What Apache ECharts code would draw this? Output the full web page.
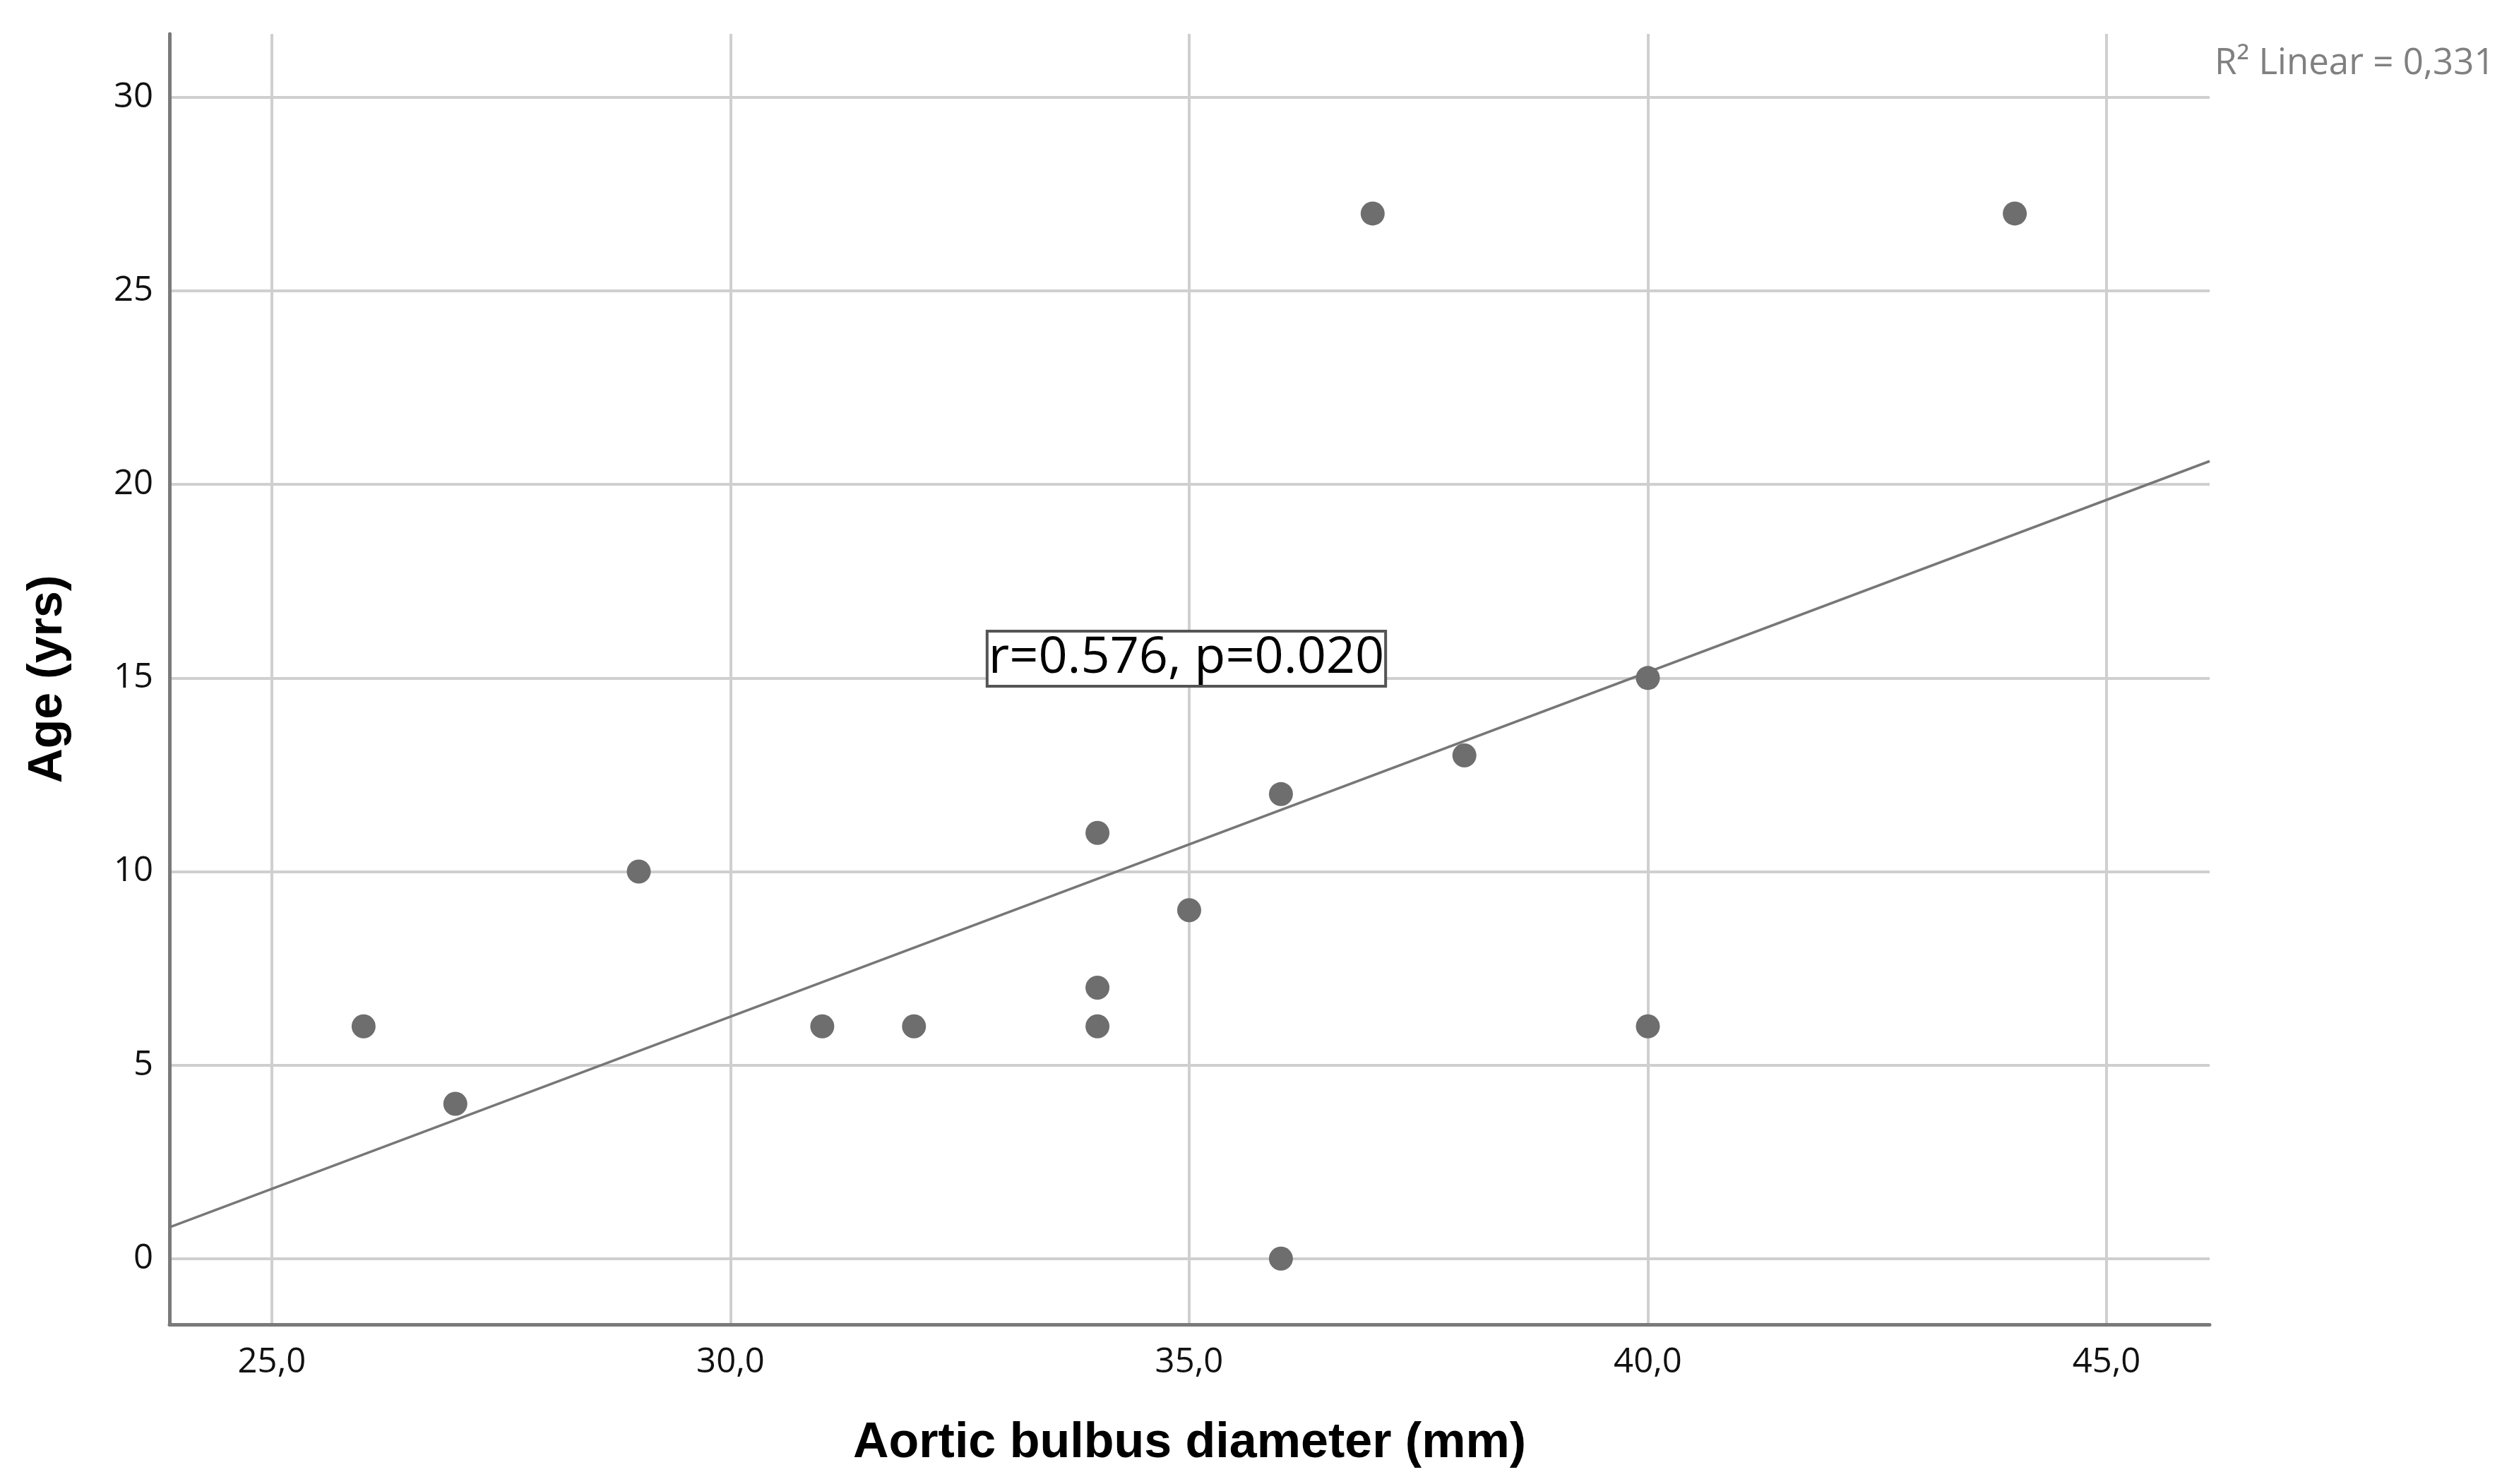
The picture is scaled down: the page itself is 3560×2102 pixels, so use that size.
<!DOCTYPE html>
<html>
<head>
<meta charset="utf-8">
<script src="https://cdn.jsdelivr.net/npm/echarts@6/dist/echarts.min.js"></script>
<style>
  html, body { margin: 0; padding: 0; background: #fff; }
  #chart { width: 3560px; height: 2102px; }
</style>
</head>
<body>
<div id="chart"></div>
<script>
// aortic bulbus diameter (mm) vs age (yrs)
var diameterMm = [26, 27, 29, 31, 32, 34, 34, 34, 35, 36, 36, 37, 38, 40, 40, 44];
var ageYrs     = [6, 4, 10, 6, 6, 11, 7, 6, 9, 12, 0, 27, 13, 15, 6, 27];

var xRange = [23.884, 46.124];
var yRange = [-1.70, 31.64];

var r2Label = 'R² Linear = 0,331';
var statsLabel = 'r=0.576, p=0.020';
var statsAt = [35, 15.5];

// least squares fit
var n = diameterMm.length, mx = 0, my = 0;
for (var i = 0; i < n; i++) { mx += diameterMm[i]; my += ageYrs[i]; }
mx /= n; my /= n;
var sxy = 0, sxx = 0;
for (var i = 0; i < n; i++) {
    sxy += (diameterMm[i] - mx) * (ageYrs[i] - my);
    sxx += (diameterMm[i] - mx) * (diameterMm[i] - mx);
}
var slope = sxy / sxx;
var intercept = my - slope * mx;
var fitLine = xRange.map(function (x) { return [x, intercept + slope * x]; });

var points = diameterMm.map(function (x, i) { return [x, ageYrs[i]]; });

var myChart = echarts.init(document.getElementById('chart'));

var option = {
    animation: false,
    backgroundColor: '#fff',
    grid: { left: 240, top: 48, width: 2889, height: 1828, containLabel: false },
    xAxis: {
        type: 'value',
        min: xRange[0],
        max: xRange[1],
        splitNumber: 5,
        name: 'Aortic bulbus diameter (mm)',
        nameLocation: 'middle',
        nameGap: 134,
        nameTextStyle: { fontFamily: 'Liberation Sans', fontWeight: 'bold', fontSize: 70, color: '#000' },
        axisLine: { onZero: false, lineStyle: { color: '#7a7a7a', width: 5 } },
        axisTick: { show: false },
        axisLabel: {
            showMinLabel: false, showMaxLabel: false,
            margin: 30,
            fontFamily: 'Open Sans', fontSize: 49, color: '#111',
            formatter: function (v) { return v.toFixed(1).replace('.', ','); }
        },
        splitLine: { show: true, showMinLine: false, showMaxLine: false, lineStyle: { color: '#cfcfcf', width: 4 } }
    },
    yAxis: {
        type: 'value',
        min: yRange[0],
        max: yRange[1],
        splitNumber: 7,
        name: 'Age (yrs)',
        nameLocation: 'middle',
        nameGap: 138,
        nameTextStyle: { fontFamily: 'Liberation Sans', fontWeight: 'bold', fontSize: 68, color: '#000' },
        axisLine: { onZero: false, show: true, lineStyle: { color: '#7a7a7a', width: 5 } },
        axisTick: { show: false },
        axisLabel: {
            showMinLabel: false, showMaxLabel: false,
            margin: 23,
            fontFamily: 'Open Sans', fontSize: 49, color: '#111'
        },
        splitLine: { show: true, showMinLine: false, showMaxLine: false, lineStyle: { color: '#cfcfcf', width: 4 } }
    },
    series: [
        {
            type: 'line',
            data: fitLine,
            symbol: 'none',
            silent: true,
            z: 2,
            lineStyle: { color: '#777', width: 3.5 }
        },
        {
            type: 'scatter',
            data: points,
            symbolSize: 34,
            z: 3,
            itemStyle: { color: '#6e6e6e', opacity: 1 }
        }
    ]
};

myChart.setOption(option);

var p = myChart.convertToPixel({ gridIndex: 0 }, statsAt);
myChart.setOption({
    graphic: [
        {
            type: 'text',
            x: p[0] - 4, y: p[1],
            z: 10,
            style: {
                text: statsLabel,
                align: 'center', verticalAlign: 'middle',
                fontFamily: 'Open Sans', fontSize: 72, fill: '#000',
                backgroundColor: '#fff',
                borderColor: '#555', borderWidth: 4,
                padding: [2, 0, 0, 0]
            }
        },
        {
            type: 'text',
            x: 3136, y: 90,
            style: {
                text: r2Label,
                align: 'left', verticalAlign: 'middle',
                fontFamily: 'Open Sans', fontSize: 51, fill: '#808080'
            }
        }
    ]
});
</script>
</body>
</html>
